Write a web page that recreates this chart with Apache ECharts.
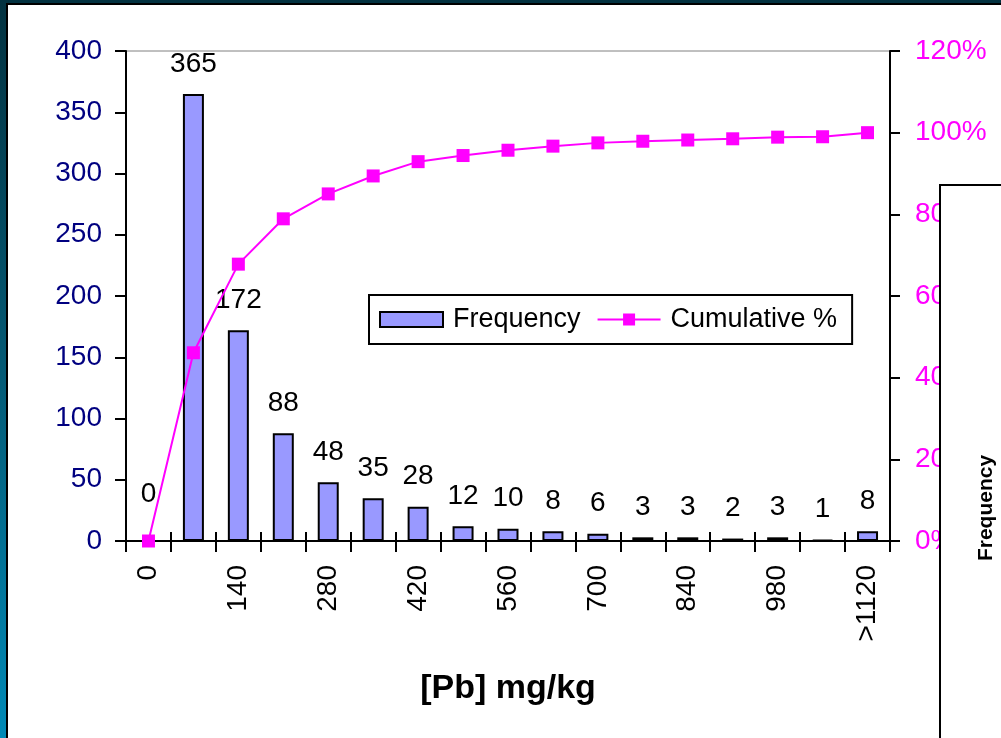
<!DOCTYPE html>
<html>
<head>
<meta charset="utf-8">
<script src="https://cdn.jsdelivr.net/npm/echarts@6/dist/echarts.min.js"></script>
<style>
html,body{margin:0;padding:0;width:1001px;height:738px;overflow:hidden;}
body{background:linear-gradient(to bottom,#033240 0%,#045a75 50%,#0089b6 100%);position:relative;}
#panel{position:absolute;left:6px;top:3px;width:1100px;height:800px;background:#fff;border:2px solid #000;box-sizing:border-box;}
#c{position:absolute;left:0;top:0;width:1001px;height:738px;}
</style>
</head>
<body>
<div id="panel"></div>
<div id="c"></div>
<script>
const categories = ['0','70','140','210','280','350','420','490','560','630','700','770','840','910','980','1050','>1120'];
const frequency = [0,365,172,88,48,35,28,12,10,8,6,3,3,2,3,1,8];
const cumulative = [0,46.1,67.8,78.9,85.0,89.4,92.9,94.4,95.7,96.7,97.5,97.9,98.2,98.5,98.9,99.0,100];
const leftAxis = {min:0,max:400,interval:50};
const rightAxis = {min:0,max:120,interval:20};

const FONT = "'Liberation Sans', Arial, sans-serif";
const barData = frequency.map(v => v === 0 ? {value:v,label:{distance:32}} : v);
const chart = echarts.init(document.getElementById('c'), null, {renderer:'canvas'});
chart.setOption({
  animation:false,
  backgroundColor:'transparent',
  textStyle:{fontFamily:FONT},
  grid:{left:126,right:111,top:51,bottom:197,show:true,borderColor:'#808080',borderWidth:1,backgroundColor:'transparent'},
  legend:{
    left:369, top:295,
    padding:[11,15,11,10],
    backgroundColor:'#fff', borderColor:'#000', borderWidth:2, borderRadius:0,
    itemWidth:63, itemHeight:15, itemGap:16,
    textStyle:{fontFamily:FONT,fontSize:27,color:'#000',padding:[0,0,0,5]},
    data:[{name:'Frequency',icon:'rect'},{name:'Cumulative %'}]
  },
  xAxis:[{
    type:'category', data:categories, boundaryGap:true,
    axisLine:{lineStyle:{color:'#000',width:2}},
    axisTick:{show:true,interval:0,length:11,lineStyle:{color:'#000',width:2}},
    axisLabel:{interval:1,rotate:90,margin:24,fontSize:28,color:'#000',fontFamily:FONT},
    name:'[Pb] mg/kg', nameLocation:'middle', nameGap:131,
    nameTextStyle:{fontSize:34,fontWeight:'bold',color:'#000',fontFamily:FONT}
  },{
    type:'category', data:categories, position:'bottom', boundaryGap:true,
    axisLine:{show:false},
    axisTick:{show:true,inside:true,interval:0,length:9,lineStyle:{color:'#000',width:2}},
    axisLabel:{show:false}
  }],
  yAxis:[{
    type:'value', min:leftAxis.min, max:leftAxis.max, interval:leftAxis.interval, position:'left',
    axisLine:{show:true,lineStyle:{color:'#000',width:2}},
    axisTick:{show:true,length:11,lineStyle:{color:'#000',width:2}},
    axisLabel:{margin:24,fontSize:28,color:'#000080',fontFamily:FONT},
    splitLine:{show:false}
  },{
    type:'value', min:rightAxis.min, max:rightAxis.max, interval:rightAxis.interval, position:'right',
    axisLine:{show:true,lineStyle:{color:'#000',width:2}},
    axisTick:{show:true,length:10,lineStyle:{color:'#000',width:2}},
    axisLabel:{margin:25,fontSize:28,color:'#ff00ff',fontFamily:FONT,formatter:'{value}%'},
    splitLine:{show:false}
  }],
  series:[{
    name:'Frequency', type:'bar', data:barData, xAxisIndex:0, yAxisIndex:0,
    barWidth:21,
    itemStyle:{color:'#9999ff',borderColor:'#000',borderWidth:2},
    label:{show:true,position:'top',distance:16,fontSize:28,color:'#000',fontFamily:FONT},
    z:2
  },{
    name:'Cumulative %', type:'line', data:cumulative, xAxisIndex:0, yAxisIndex:1,
    symbol:'rect', symbolSize:13, showAllSymbol:true,
    lineStyle:{color:'#ff00ff',width:2},
    itemStyle:{color:'#ff00ff'},
    z:3
  }],
  graphic:[{
    type:'rect', z:100, shape:{x:940,y:185,width:120,height:600},
    style:{fill:'#fff',stroke:'#000',lineWidth:2}
  },{
    type:'text', z:101, x:986, y:508, rotation:Math.PI/2,
    style:{text:'Frequency',fill:'#000',font:"bold 21px 'Liberation Sans', Arial, sans-serif",align:'center',verticalAlign:'middle'}
  }]
});
</script>
</body>
</html>
